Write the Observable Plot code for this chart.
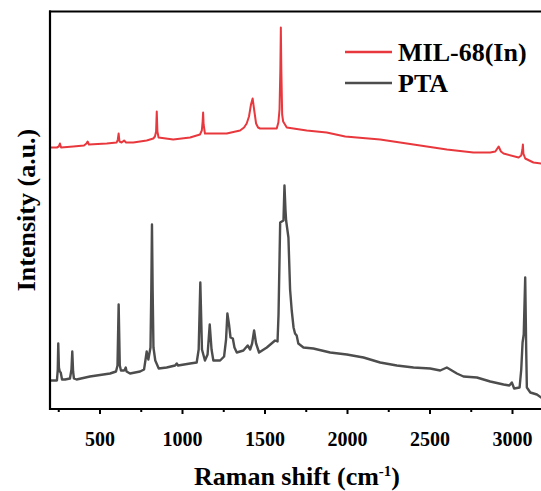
<!DOCTYPE html>
<html>
<head>
<meta charset="utf-8">
<script src="https://cdn.jsdelivr.net/npm/d3@7"></script>
<script src="https://cdn.jsdelivr.net/npm/@observablehq/plot@0.6"></script>
<style>
html, body { margin: 0; padding: 0; overflow: hidden; background: #fff; }
#chart { position: absolute; left: 0; top: 0; width: 541px; height: 491px; overflow: hidden; }
#chart svg { max-width: none !important; display: block; }
</style>
</head>
<body>
<div id="chart"></div>
<script>
// Series names
const seriesNames = ["MIL-68(In)", "PTA"];
const seriesColors = ["#e8383d", "#4d4d4d"];

// MIL-68(In) spectrum (Raman shift, intensity a.u.)
const milX = [200, 239, 250, 257, 264, 338, 403, 418, 425, 433, 541, 601, 608, 613, 618, 631, 646, 658, 702, 783, 823, 833, 840, 844, 848, 855, 944, 1046, 1106, 1117, 1122, 1125, 1128, 1136, 1187, 1268, 1349, 1373, 1389, 1403, 1415, 1425, 1434, 1446, 1458, 1470, 1511, 1571, 1581, 1588, 1593, 1596, 1599, 1604, 1610, 1632, 1753, 1874, 1986, 2198, 2400, 2602, 2763, 2865, 2896, 2916, 2930, 2946, 3037, 3053, 3060, 3063, 3066, 3077, 3127, 3174, 3200];
const milY = [262, 262, 263, 266, 262, 263, 264, 266, 268, 265, 266, 267, 270, 276, 268, 267, 269, 267, 267, 269, 271, 273, 278, 298, 278, 272, 270, 272, 275, 279, 288, 297, 285, 276, 276, 276, 279, 282, 286, 293, 305, 311, 300, 286, 282, 281, 281, 281, 287, 300, 340, 382, 340, 295, 288, 282, 279, 277, 273, 270, 265, 260, 257, 257, 258, 263, 258, 256, 252, 254, 260, 265, 256, 251, 247, 246, 245];

// PTA spectrum
const ptaX = [200, 213, 239, 244, 247, 251, 256, 262, 270, 288, 318, 327, 332, 337, 342, 358, 439, 561, 597, 606, 613, 620, 627, 646, 651, 656, 661, 682, 743, 767, 776, 783, 793, 806, 811, 815, 819, 824, 835, 856, 904, 955, 965, 973, 1046, 1086, 1098, 1108, 1118, 1136, 1152, 1165, 1176, 1187, 1228, 1252, 1264, 1272, 1282, 1291, 1305, 1315, 1329, 1369, 1395, 1410, 1422, 1434, 1446, 1464, 1511, 1561, 1576, 1582, 1592, 1612, 1618, 1624, 1628, 1642, 1652, 1662, 1673, 1682, 1692, 1702, 1733, 1793, 1895, 1996, 2097, 2198, 2299, 2400, 2501, 2562, 2602, 2663, 2703, 2784, 2865, 2946, 2981, 2996, 3010, 3043, 3053, 3061, 3068, 3077, 3083, 3087, 3108, 3148, 3174, 3200];
const ptaY = [29, 29, 29, 40, 66, 42, 38, 37, 30, 30, 31, 40, 58, 38, 31, 30, 33, 36, 38, 44, 105, 44, 39, 39, 40, 42, 38, 36, 38, 40, 50, 58, 50, 62, 120, 185, 120, 62, 49, 41, 42, 44, 46, 44, 46, 47, 60, 127, 60, 49, 55, 85, 60, 49, 49, 53, 70, 96, 85, 72, 71, 62, 57, 59, 64, 60, 66, 79, 66, 57, 62, 69, 68, 95, 187, 189, 224, 200, 189, 172, 120, 99, 82, 76, 74, 66, 62, 61, 57, 55, 52, 47, 44, 42, 41, 39, 42, 36, 33, 32, 28, 25, 24, 27, 21, 22, 40, 67, 75, 132, 60, 22, 17, 15, 12, 11];

// Axis ticks
const majorTicks = [500, 1000, 1500, 2000, 2500, 3000];
const minorTicks = [250, 750, 1250, 1750, 2250, 2750];

(function () {
  const mil = milX.map((x, i) => ({x, y: milY[i], s: seriesNames[0]}));
  const pta = ptaX.map((x, i) => ({x, y: ptaY[i], s: seriesNames[1]}));

  const serif = "'Times New Roman', 'Liberation Serif', serif";
  const M = {top: 11, left: 50, bottom: 82, right: 0, width: 545, height: 491};

  const svg = Plot.plot({
    width: M.width,
    height: M.height,
    marginLeft: M.left,
    marginRight: M.right,
    marginTop: M.top,
    marginBottom: M.bottom,
    style: {fontFamily: serif, fontSize: "20px", fontWeight: "bold", color: "black", background: "white", maxWidth: "none"},
    x: {domain: [200, 3200], axis: null, label: null},
    y: {domain: [0, 398], axis: null, label: null},
    marks: [
      Plot.line(pta, {x: "x", y: "y", stroke: seriesColors[1], strokeWidth: 2.4, curve: "linear"}),
      Plot.line(mil, {x: "x", y: "y", stroke: seriesColors[0], strokeWidth: 2, curve: "linear"}),
      Plot.axisX(minorTicks, {tickSize: 3, tickFormat: () => "", strokeWidth: 2, stroke: "black"}),
      Plot.axisX(majorTicks, {tickSize: 5, tickPadding: 17, tickFormat: (d) => String(d), strokeWidth: 2, stroke: "black", fill: "black", fontSize: 20, fontWeight: "bold"})
    ]
  });

  const root = d3.select(svg);
  const fLeft = M.left, fRight = M.width - M.right;
  const fTop = M.top, fBottom = M.height - M.bottom;

  // Y axis title
  root.append("text")
    .attr("transform", "translate(35,210) rotate(-90)")
    .attr("text-anchor", "middle")
    .attr("font-family", serif)
    .attr("font-weight", "bold")
    .attr("font-size", 26)
    .attr("fill", "black")
    .text("Intensity (a.u.)");

  // X axis title with superscript
  const xt = root.append("text")
    .attr("x", 297)
    .attr("y", 485)
    .attr("text-anchor", "middle")
    .attr("font-family", serif)
    .attr("font-weight", "bold")
    .attr("font-size", 26)
    .attr("fill", "black");
  xt.append("tspan").text("Raman shift (cm");
  xt.append("tspan").attr("font-size", 15).attr("dy", -9).text("-1");
  xt.append("tspan").attr("dy", 9).text(")");

  // Legend
  const lg = root.append("g").attr("text-anchor", "start");
  seriesNames.forEach((name, i) => {
    const yy = 52 + i * 31;
    lg.append("line").attr("x1", 345).attr("x2", 392).attr("y1", yy).attr("y2", yy)
      .attr("stroke", seriesColors[i]).attr("stroke-width", 2.4);
    lg.append("text").attr("x", 398).attr("y", yy + 8.5)
      .attr("text-anchor", "start")
      .attr("font-family", serif).attr("font-weight", "bold").attr("font-size", 26)
      .attr("fill", "black").text(name);
  });

  // Frame (top, left, bottom), drawn last
  const g = root.append("g").attr("stroke", "black").attr("stroke-width", 2.2).attr("fill", "none");
  g.append("line").attr("x1", fLeft - 1).attr("x2", fRight).attr("y1", fTop + 0.5).attr("y2", fTop + 0.5);
  g.append("line").attr("x1", fLeft).attr("x2", fLeft).attr("y1", fTop - 0.5).attr("y2", fBottom + 1);
  g.append("line").attr("x1", fLeft - 1).attr("x2", fRight).attr("y1", fBottom).attr("y2", fBottom);

  document.getElementById("chart").appendChild(svg);
})();
</script>
</body>
</html>
